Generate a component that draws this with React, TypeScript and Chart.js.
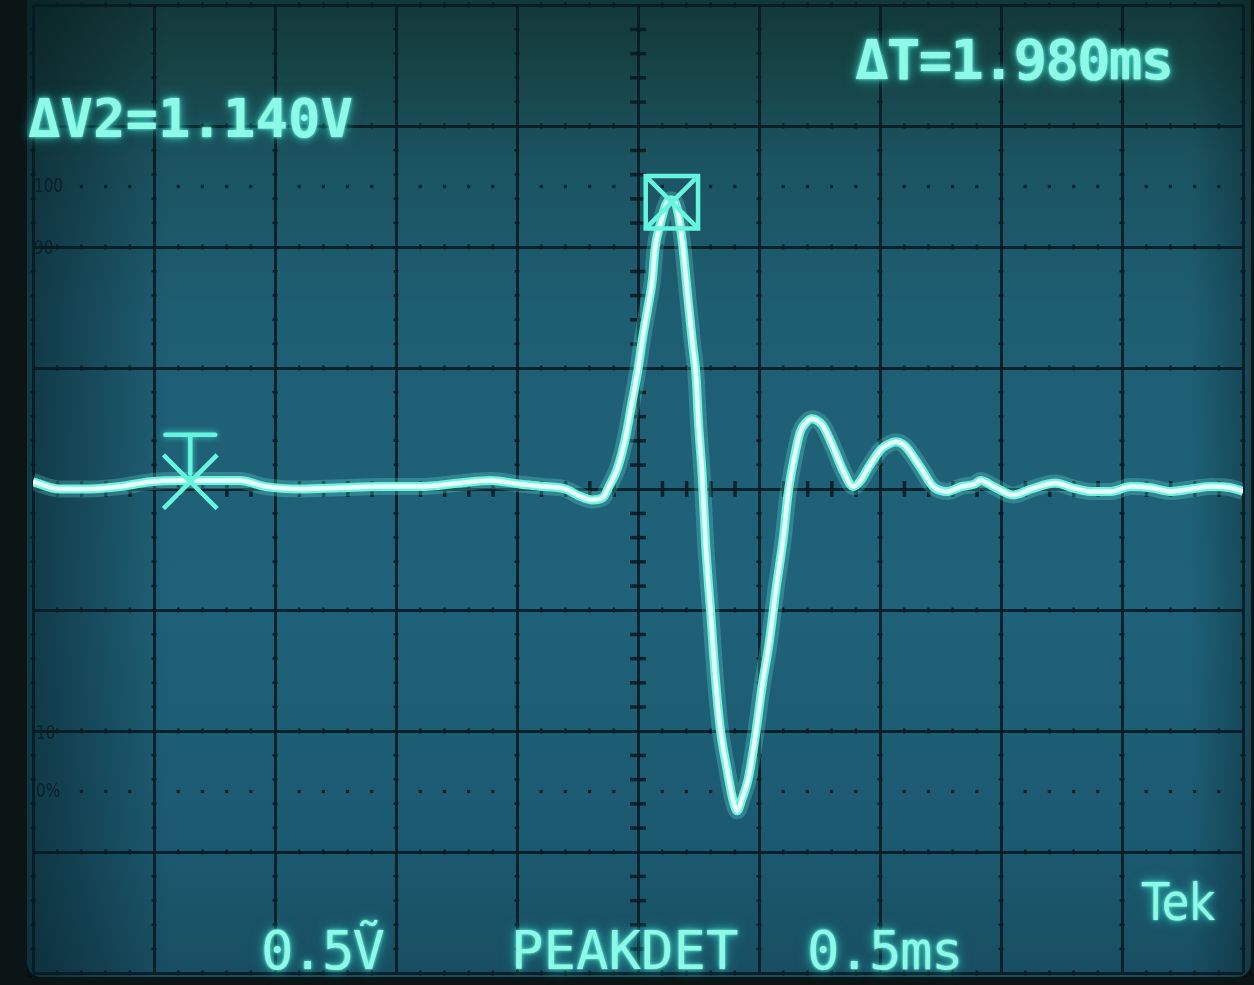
import React, { useEffect, useRef } from 'react';
import { Chart, registerables } from 'chart.js';

Chart.register(...registerables);

// Time axis in divisions (0.5 ms/div), 10 divisions across
const traceTime = [
  0.00, 0.22, 0.47, 0.72, 0.97, 1.22, 1.46, 1.71, 1.92, 2.21, 2.54, 2.87, 3.20, 3.53, 3.78, 4.03,
  4.23, 4.40, 4.52, 4.62, 4.71, 4.76, 4.83, 4.90, 4.94, 5.00, 5.04, 5.08, 5.12, 5.14, 5.19, 5.23,
  5.27, 5.31, 5.34, 5.37, 5.41, 5.45, 5.48, 5.50, 5.53, 5.56, 5.60, 5.64, 5.68, 5.74, 5.78, 5.82,
  5.86, 5.91, 5.97, 6.03, 6.08, 6.14, 6.20, 6.24, 6.29, 6.34, 6.39, 6.44, 6.49, 6.53, 6.62, 6.70,
  6.78, 6.84, 6.90, 7.01, 7.07, 7.13, 7.19, 7.23, 7.34, 7.44, 7.56, 7.67, 7.78, 7.83, 7.94, 8.10,
  8.25, 8.45, 8.59, 8.74, 8.91, 9.07, 9.24, 9.40, 9.57, 9.74, 9.90, 10.00,
];
// Voltage in divisions (0.5 V/div), 8 divisions tall
const traceVolts = [
  0.06, 0.00, 0.00, 0.02, 0.06, 0.07, 0.07, 0.07, 0.02, 0.00, 0.01, 0.02, 0.02, 0.05, 0.07, 0.04,
  0.02, 0.00, -0.06, -0.09, -0.07, 0.02, 0.17, 0.44, 0.66, 0.99, 1.26, 1.49, 1.74, 1.98, 2.21, 2.35,
  2.39, 2.36, 2.23, 2.01, 1.60, 1.21, 0.93, 0.55, 0.12, -0.47, -1.01, -1.57, -1.98, -2.34, -2.55, -2.66,
  -2.56, -2.40, -2.04, -1.60, -1.30, -0.83, -0.41, -0.04, 0.25, 0.47, 0.55, 0.58, 0.56, 0.52, 0.33, 0.14,
  0.02, 0.07, 0.17, 0.33, 0.37, 0.39, 0.37, 0.33, 0.17, 0.02, -0.02, 0.02, 0.04, 0.07, 0.02, -0.05,
  0.00, 0.05, 0.01, -0.02, -0.02, 0.02, 0.01, -0.02, 0.00, 0.02, 0.01, -0.02,
];

const cursorTimes = [1.30, 5.28];
const cursorVolts = [0.06, 2.37];

const xDivisions = [0, 10];
const yDivisions = [-4, 4];
const percentLevels = [2.5, -2.5];

const graticuleLabels = ['100', '90', '10', '0%'];
const readoutTop = ['ΔV2=1.140V', 'ΔT=1.980ms'];
const readoutBottom = ['0.5Ṽ', 'PEAKDET', '0.5ms', 'Tek'];

const GRID = 'rgba(6,26,34,0.88)';
const TRACE_CORE = '#e6fffa';
const TRACE_MID = '#6ff3e0';
const TRACE_GLOW = 'rgba(110,245,228,0.25)';
const CURSOR = '#66f5df';

const screenPlugin = {
  id: 'screen',
  beforeDraw(chart: any) {
    const { ctx, width, height } = chart;
    ctx.save();
    ctx.fillStyle = '#0b1515';
    ctx.fillRect(0, 0, width, height);
    const g = ctx.createLinearGradient(0, 0, 0, height);
    g.addColorStop(0, '#133839');
    g.addColorStop(0.08, '#174548');
    g.addColorStop(0.16, '#1b5360');
    g.addColorStop(0.32, '#1e5e73');
    g.addColorStop(0.6, '#1f6279');
    g.addColorStop(0.85, '#1c5a71');
    g.addColorStop(1, '#184d60');
    ctx.fillStyle = g;
    ctx.beginPath();
    (ctx as any).roundRect(27, -20, 1224, 997, 14);
    ctx.fill();
    const l = ctx.createLinearGradient(27, 0, 170, 0);
    l.addColorStop(0, 'rgba(0,10,12,0.45)');
    l.addColorStop(1, 'rgba(0,10,12,0)');
    ctx.fillStyle = l;
    ctx.fillRect(27, 0, 150, 977);
    const r = ctx.createLinearGradient(1190, 0, 1252, 0);
    r.addColorStop(0, 'rgba(0,10,12,0)');
    r.addColorStop(1, 'rgba(0,10,12,0.3)');
    ctx.fillStyle = r;
    ctx.fillRect(1190, 0, 62, 977);
    ctx.restore();
  },
  beforeDatasetsDraw(chart: any) {
    const { ctx } = chart;
    const xs = chart.scales.x;
    const ys = chart.scales.y;
    ctx.save();
    ctx.fillStyle = GRID;
    for (let i = xDivisions[0]; i <= xDivisions[1]; i++) {
      const px = xs.getPixelForValue(i);
      for (let j = yDivisions[0] * 5; j <= yDivisions[1] * 5; j++) {
        if (j % 5 === 0) continue;
        const py = ys.getPixelForValue(j / 5);
        if (i === 5) ctx.fillRect(px - 8, py - 1.5, 16, 3.5);
        else ctx.fillRect(px - 2.5, py - 1.2, 5, 2.5);
      }
    }
    for (let j = yDivisions[0]; j <= yDivisions[1]; j++) {
      const py = ys.getPixelForValue(j);
      for (let i = xDivisions[0] * 5; i <= xDivisions[1] * 5; i++) {
        if (i % 5 === 0) continue;
        const px = xs.getPixelForValue(i / 5);
        if (j === 0) ctx.fillRect(px - 1.5, py - 8, 3.5, 16);
        else ctx.fillRect(px - 1.2, py - 2.5, 2.5, 5);
      }
    }
    for (const lv of percentLevels) {
      const py = ys.getPixelForValue(lv);
      for (let i = 2; i < xDivisions[1] * 5; i++) {
        if (i % 5 === 0) continue;
        const px = xs.getPixelForValue(i / 5);
        ctx.fillRect(px - 1.6, py - 1.6, 3.2, 3.2);
      }
    }
    ctx.restore();
  },
  afterDatasetsDraw(chart: any) {
    const { ctx } = chart;
    const meta = chart.getDatasetMeta(1);
    const pt = meta.data[0];
    if (!pt) return;
    ctx.save();
    ctx.strokeStyle = CURSOR;
    ctx.lineWidth = 4.5;
    ctx.lineCap = 'round';
    ctx.shadowColor = 'rgba(80,240,220,0.8)';
    ctx.shadowBlur = 6;
    ctx.beginPath();
    ctx.moveTo(pt.x - 25, pt.y - 47);
    ctx.lineTo(pt.x + 25, pt.y - 47);
    ctx.moveTo(pt.x, pt.y - 47);
    ctx.lineTo(pt.x, pt.y - 8);
    ctx.stroke();
    ctx.restore();
  },
};

const glowText = '0 0 3px rgba(120,255,235,0.9), 0 0 9px rgba(60,230,210,0.75), 0 0 16px rgba(60,230,210,0.35)';

function Readout(props: { text: string; left: number; top: number; size: number; spacing?: number; weight?: string; family?: string; scaleX?: number }) {
  return (
    <div
      style={{
        position: 'absolute',
        left: props.left,
        top: props.top,
        fontFamily: props.family || '"DejaVu Sans Mono", monospace',
        fontSize: props.size,
        fontWeight: props.weight || 'bold',
        lineHeight: 1,
        letterSpacing: props.spacing || 0,
        color: '#8ef9e6',
        textShadow: glowText,
        whiteSpace: 'pre',
        transform: props.scaleX ? `scaleX(${props.scaleX})` : undefined,
        transformOrigin: 'left top',
      }}
    >
      {props.text}
    </div>
  );
}

function GratLabel(props: { text: string; left: number; top: number }) {
  return (
    <div
      style={{
        position: 'absolute',
        left: props.left,
        top: props.top,
        fontFamily: '"DejaVu Sans", sans-serif',
        fontSize: 19,
        lineHeight: 1,
        color: 'rgba(8,30,40,0.9)',
        transform: 'scaleX(0.8)',
        transformOrigin: 'left top',
        whiteSpace: 'pre',
      }}
    >
      {props.text}
    </div>
  );
}

export default function App() {
  const canvasRef = useRef<HTMLCanvasElement | null>(null);

  useEffect(() => {
    const canvas = canvasRef.current;
    if (!canvas) return;
    const trace = traceTime.map((t, i) => ({ x: t, y: traceVolts[i] }));
    const cursorPoint = (k: number) => [{ x: cursorTimes[k], y: cursorVolts[k] }];
    const chart = new Chart(canvas, {
      type: 'line',
      data: {
        datasets: [
          {
            label: 'cursor 2',
            data: cursorPoint(1),
            showLine: false,
            pointStyle: 'rect',
            pointRadius: 37,
            pointBorderWidth: 4.5,
            pointBorderColor: CURSOR,
            pointBackgroundColor: 'rgba(0,0,0,0)',
            borderColor: CURSOR,
          } as any,
          {
            label: 'cursor 1',
            data: cursorPoint(0),
            showLine: false,
            pointStyle: 'crossRot',
            pointRadius: 38,
            pointBorderWidth: 4.5,
            pointBorderColor: CURSOR,
            pointBackgroundColor: 'rgba(0,0,0,0)',
            borderColor: CURSOR,
          } as any,
          {
            label: 'cursor 2 cross',
            data: cursorPoint(1),
            showLine: false,
            pointStyle: 'crossRot',
            pointRadius: 37,
            pointBorderWidth: 4.5,
            pointBorderColor: CURSOR,
            pointBackgroundColor: 'rgba(0,0,0,0)',
            borderColor: CURSOR,
          } as any,
          {
            label: 'CH2 core',
            data: trace,
            borderColor: TRACE_CORE,
            borderWidth: 4.5,
            pointRadius: 0,
            cubicInterpolationMode: 'monotone',
            fill: false,
          },
          {
            label: 'CH2',
            data: trace,
            borderColor: TRACE_MID,
            borderWidth: 9,
            pointRadius: 0,
            cubicInterpolationMode: 'monotone',
            fill: false,
          },
          {
            label: 'CH2 glow',
            data: trace,
            borderColor: TRACE_GLOW,
            borderWidth: 17,
            pointRadius: 0,
            cubicInterpolationMode: 'monotone',
            fill: false,
          },
        ],
      },
      options: {
        animation: false,
        responsive: false,
        devicePixelRatio: 1,
        layout: { autoPadding: false, padding: { left: 33, right: 11, top: 5, bottom: 12 } },
        plugins: {
          legend: { display: false },
          tooltip: { enabled: false },
          title: { display: false },
        },
        scales: {
          x: {
            type: 'linear',
            min: xDivisions[0],
            max: xDivisions[1],
            ticks: { display: false, stepSize: 1 },
            grid: { color: GRID, lineWidth: 3, drawTicks: false },
            border: { display: false },
          },
          y: {
            type: 'linear',
            min: yDivisions[0],
            max: yDivisions[1],
            ticks: { display: false, stepSize: 1 },
            grid: { color: GRID, lineWidth: 3, drawTicks: false },
            border: { display: false },
          },
        },
      },
      plugins: [screenPlugin],
    });
    return () => chart.destroy();
  }, []);

  return (
    <div style={{ position: 'absolute', left: 0, top: 0, width: 1254, height: 985, overflow: 'hidden', background: '#0b1515' }}>
      <canvas ref={canvasRef} width={1254} height={985} style={{ position: 'absolute', left: 0, top: 0, width: 1254, height: 985 }} />
      <Readout text={readoutTop[0]} left={28} top={92} size={54} />
      <Readout text={readoutTop[1]} left={855} top={32} size={56} spacing={-2} />
      <Readout text={readoutBottom[0]} left={261} top={924} size={54} spacing={-2} weight="normal" />
      <Readout text={readoutBottom[1]} left={511} top={924} size={54} weight="normal" />
      <Readout text={readoutBottom[2]} left={807} top={924} size={54} spacing={-1.5} weight="normal" />
      <Readout text={readoutBottom[3]} left={1142} top={876} size={52} weight="normal" family='"DejaVu Sans", sans-serif' scaleX={0.86} />
      <GratLabel text={graticuleLabels[0]} left={34} top={176} />
      <GratLabel text={graticuleLabels[1]} left={34} top={238} />
      <GratLabel text={graticuleLabels[2]} left={36} top={723} />
      <GratLabel text={graticuleLabels[3]} left={36} top={781} />
    </div>
  );
}
